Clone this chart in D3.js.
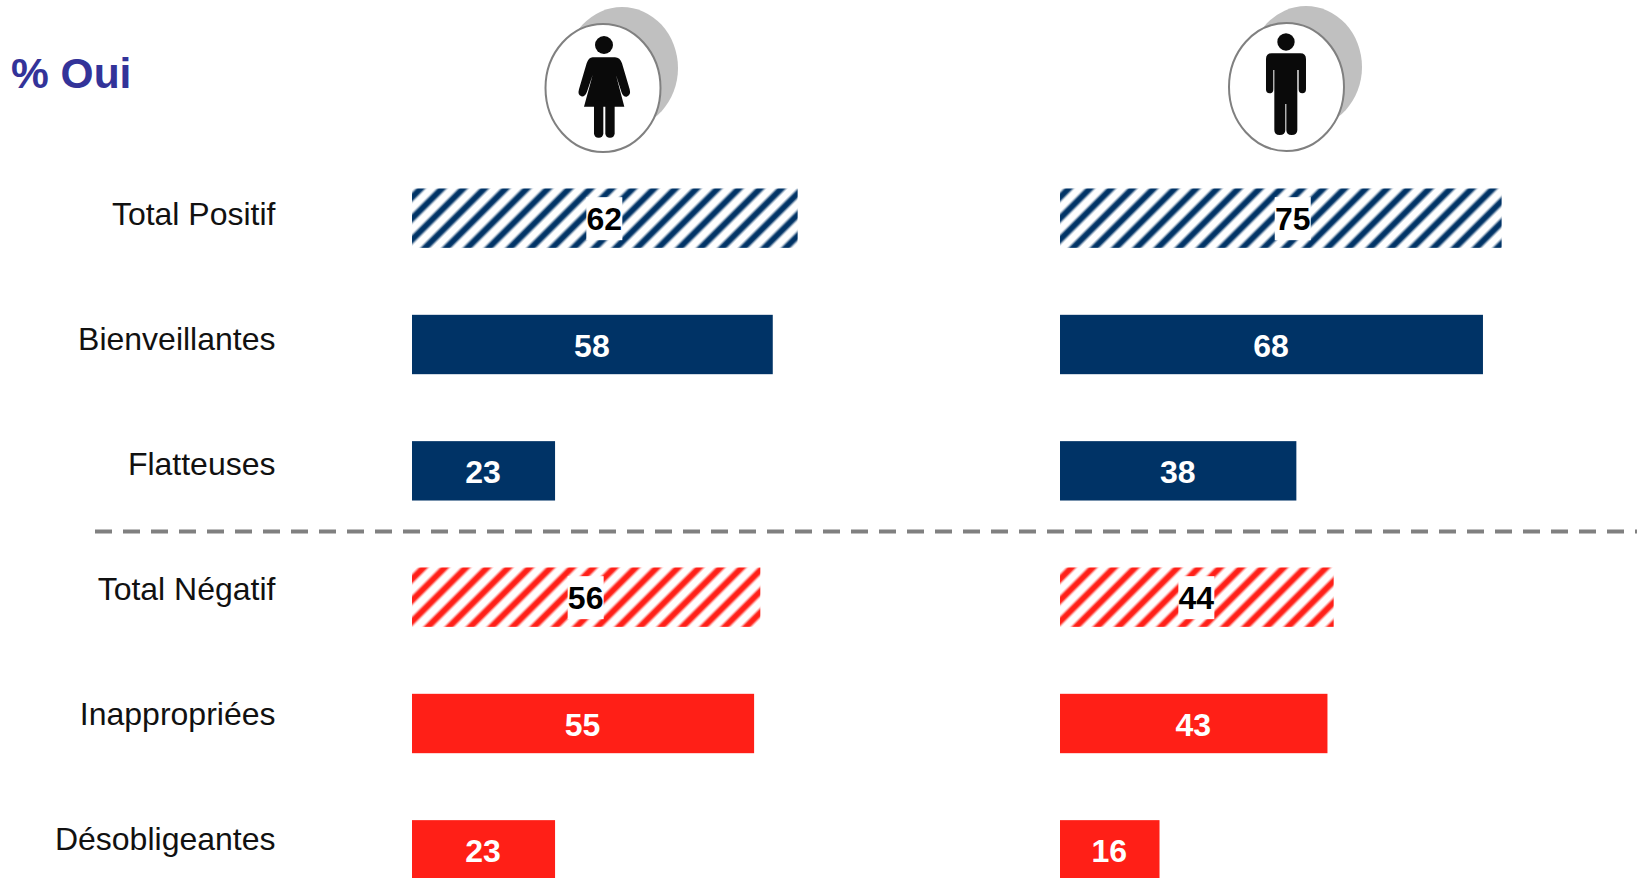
<!DOCTYPE html>
<html>
<head>
<meta charset="utf-8">
<script src="https://cdn.jsdelivr.net/npm/d3@7"></script>
<style>
  html, body { margin: 0; padding: 0; background: #fff; overflow: hidden; }
  text { font-family: "Liberation Sans", Arial, sans-serif; }
</style>
</head>
<body>
<div id="chart"></div>
<script>
// Data
const categories = ["Total Positif", "Bienveillantes", "Flatteuses", "Total Négatif", "Inappropriées", "Désobligeantes"];
const womenLabels = [62, 58, 23, 56, 55, 23];
const menLabels = [75, 68, 38, 44, 43, 16];
// drawn bar lengths: the 75 bar is drawn shorter than its label in the original
const womenBars = [62, 58, 23, 56, 55, 23];
const menBars = [71, 68, 38, 44, 43, 16];
const rowKinds = ["posHatch", "pos", "pos", "negHatch", "neg", "neg"];

const width = 1637, height = 878;
const blue = "#003366", red = "#ff1f17";

const svg = d3.select("#chart").append("svg")
    .attr("width", width)
    .attr("height", height)
    .style("display", "block");

// hatch patterns, soft edged stripes
const defs = svg.append("defs");
[["posHatch", blue], ["negHatch", red]].forEach(([id, col]) => {
    const grad = defs.append("linearGradient").attr("id", id + "Stripe");
    [[0, 0], [0.3, 1], [0.7, 1], [1, 0]].forEach(([o, a]) => {
        grad.append("stop")
            .attr("offset", o)
            .attr("stop-color", col)
            .attr("stop-opacity", a);
    });
    defs.append("pattern")
        .attr("id", id)
        .attr("patternUnits", "userSpaceOnUse")
        .attr("width", 15)
        .attr("height", 15)
        .attr("patternTransform", "rotate(45)")
        .append("rect")
        .attr("width", 9)
        .attr("height", 15)
        .attr("fill", `url(#${id}Stripe)`);
});

const x = d3.scaleLinear().domain([0, 100]).range([0, 622]);
const y = d3.scaleBand().domain(categories).range([155, 913]).paddingInner(0.53).paddingOuter(0.265);
const labelY = d3.scalePoint().domain(categories).range([214, 839]);

// title
svg.append("text")
    .attr("x", 11)
    .attr("y", 88)
    .attr("font-size", 42.5)
    .attr("font-weight", "bold")
    .attr("fill", "#333399")
    .text("% Oui");

// row labels
svg.append("g").selectAll("text")
    .data(categories)
    .enter()
    .append("text")
    .attr("x", 275.5)
    .attr("y", d => labelY(d))
    .attr("dy", "0.35em")
    .attr("text-anchor", "end")
    .attr("font-size", 32)
    .attr("fill", "#111")
    .text(d => d);

// dashed separator
svg.append("line")
    .attr("x1", 95)
    .attr("x2", width)
    .attr("y1", 531.5)
    .attr("y2", 531.5)
    .attr("stroke", "#808080")
    .attr("stroke-width", 4)
    .attr("stroke-dasharray", "17 11");

function drawPanel(left, bars, labels) {
    const g = svg.append("g").attr("transform", `translate(${left},0)`);

    g.selectAll("rect.bar")
        .data(categories)
        .enter()
        .append("rect")
        .attr("class", "bar")
        .attr("x", 0)
        .attr("y", d => y(d))
        .attr("width", (d, i) => x(bars[i]))
        .attr("height", y.bandwidth())
        .attr("fill", (d, i) => {
            const k = rowKinds[i];
            if (k === "pos") return blue;
            if (k === "neg") return red;
            return `url(#${k})`;
        });

    categories.forEach((c, i) => {
        const hatched = rowKinds[i].endsWith("Hatch");
        const cx = x(labels[i]) / 2 - 0.5;
        const cy = y(c) + y.bandwidth() / 2;
        if (hatched) {
            g.append("rect")
                .attr("x", cx - 18)
                .attr("y", cy - 21)
                .attr("width", 36)
                .attr("height", 43)
                .attr("fill", "#fff");
        }
        g.append("text")
            .attr("x", cx)
            .attr("y", cy)
            .attr("dy", "0.38em")
            .attr("text-anchor", "middle")
            .attr("font-size", 32)
            .attr("font-weight", "bold")
            .attr("fill", hatched ? "#000" : "#fff")
            .text(labels[i]);
    });
}

drawPanel(412, womenBars, womenLabels);
drawPanel(1060, menBars, menLabels);

// icons, path coordinates are in 3x zoomed units
function drawBadge(gx, gy, bx, by) {
    svg.append("ellipse")
        .attr("cx", gx).attr("cy", gy)
        .attr("rx", 56).attr("ry", 61)
        .attr("fill", "#c0c0c0");
    svg.append("ellipse")
        .attr("cx", bx).attr("cy", by)
        .attr("rx", 57.5).attr("ry", 64)
        .attr("fill", "#fff")
        .attr("stroke", "#808080")
        .attr("stroke-width", 2);
}

drawBadge(622, 68, 603, 88);
drawBadge(1306, 67, 1286.5, 87);

const woman = svg.append("g").attr("transform", "translate(520,0) scale(0.3333)").attr("fill", "#0a0a0a");
woman.append("circle").attr("cx", 252).attr("cy", 135).attr("r", 27);
woman.append("path").attr("d", "M218,172 L285,172 Q300,172 306,190 L329,268 Q334,286 320,290 Q309,291 304,275 L288,225 L313,320 L192,320 L218,225 L201,275 Q195,291 184,289 Q172,285 177,268 L200,190 Q206,172 218,172 Z");
woman.append("rect").attr("x", 222).attr("y", 300).attr("width", 28).attr("height", 113).attr("rx", 13);
woman.append("rect").attr("x", 256).attr("y", 300).attr("width", 28).attr("height", 113).attr("rx", 13);

const man = svg.append("g").attr("transform", "translate(1210,0) scale(0.3333)").attr("fill", "#0a0a0a");
man.append("circle").attr("cx", 228).attr("cy", 126).attr("r", 26);
man.append("path").attr("d", "M185,160 H271 Q288,160 288,177 V268 Q288,280 277,280 Q266,280 266,268 V210 H262 V390 Q262,405 245,405 Q229,405 229,390 V312 H226 V390 Q226,405 209,405 Q193,405 193,390 V210 H190 V268 Q190,280 179,280 Q168,280 168,268 V177 Q168,160 185,160 Z");
</script>
</body>
</html>
